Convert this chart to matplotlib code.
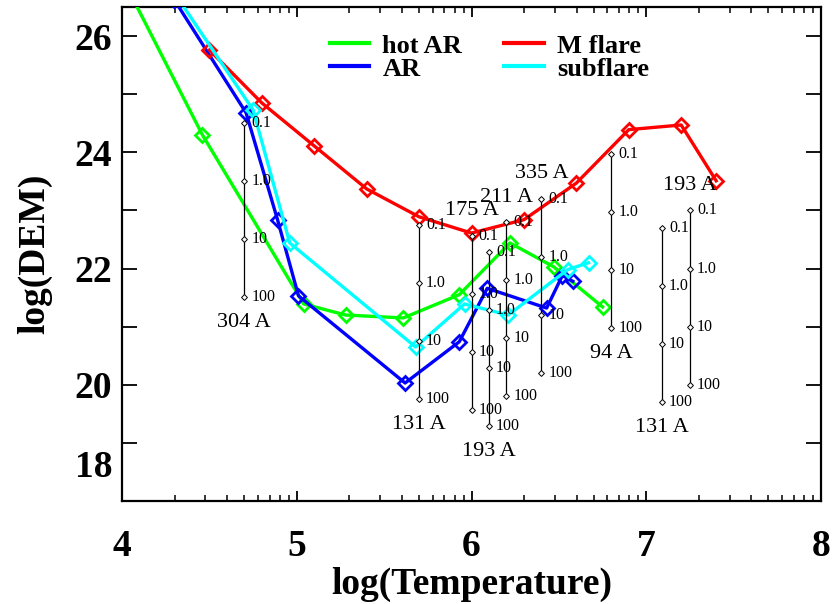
import matplotlib
matplotlib.use('Agg')
import matplotlib.pyplot as plt
from matplotlib.transforms import ScaledTranslation
import numpy as np

plt.rcParams['font.family'] = 'Liberation Serif'

# DEM curves: log(T) vs log(DEM)
hot_ar_t = [4.00, 4.46, 5.04, 5.28, 5.61, 5.93, 6.22, 6.47, 6.75]
hot_ar_dem = [27.01, 24.30, 21.39, 21.20, 21.15, 21.55, 22.44, 22.03, 21.34]
ar_t = [4.30, 4.71, 4.89, 5.01, 5.62, 5.93, 6.09, 6.43, 6.52, 6.58]
ar_dem = [26.62, 24.68, 22.84, 21.53, 20.03, 20.74, 21.66, 21.32, 21.88, 21.78]
mflare_t = [4.5, 4.8, 5.1, 5.4, 5.7, 6.0, 6.3, 6.6, 6.9, 7.2, 7.4]
mflare_dem = [25.76, 24.85, 24.11, 23.37, 22.89, 22.61, 22.84, 23.47, 24.39, 24.47, 23.51]
subflare_t = [4.30, 4.75, 4.96, 5.68, 5.96, 6.21, 6.55, 6.67]
subflare_dem = [26.74, 24.73, 22.44, 20.65, 21.39, 21.20, 21.98, 22.10]

# sensitivity bars for each channel (log DEM of the 0.1 mark)
bar_t = [4.70, 5.70, 6.00, 6.10, 6.20, 6.40, 6.80, 7.09, 7.25]
bar_top = [24.51, 22.75, 22.56, 22.29, 22.80, 23.20, 23.97, 22.70, 23.00]
bar_name = ['304 A', '131 A', '175 A', '193 A', '211 A', '335 A', '94 A', '131 A', '193 A']
bar_above = [False, False, True, False, True, True, False, False, True]
bar_factor = [0.1, 1.0, 10, 100]
bar_label = ['0.1', '1.0', '10', '100']

fig = plt.figure(figsize=(8.36, 6.04), dpi=100)
ax = fig.add_axes([122/836, 1-501/604, 699/836, 494/604])

series = [(hot_ar_t, hot_ar_dem, '#00ff00', 'hot AR'),
          (ar_t, ar_dem, '#0000ff', 'AR'),
          (mflare_t, mflare_dem, '#ff0000', 'M flare'),
          (subflare_t, subflare_dem, '#00ffff', 'subflare')]
handles = []
for t, d, c, name in series:
    h, = ax.plot(t, d, color=c, lw=2.4, marker='D', ms=7.5, mfc='none',
                 mec=c, mew=2.0, label=name, zorder=3)
    handles.append(h)

for x, top, name, above in zip(bar_t, bar_top, bar_name, bar_above):
    ys = [top - np.log10(f / bar_factor[0]) for f in bar_factor]
    ax.plot([x] * len(ys), ys, color='black', lw=0.9, marker='D', ms=3,
            mfc='white', mec='black', mew=0.7, zorder=4)
    for y, lab in zip(ys, bar_label):
        ax.annotate(lab, (x, y), xytext=(5, 0), textcoords='offset points',
                    ha='left', va='center', fontsize=11.5, zorder=5)
    if above:
        ax.annotate(name, (x, ys[0]), xytext=(0, 18), textcoords='offset points',
                    ha='center', va='center', fontsize=16, zorder=5)
    else:
        ax.annotate(name, (x, ys[-1]), xytext=(0, -18), textcoords='offset points',
                    ha='center', va='center', fontsize=16, zorder=5)

ax.set_xlim(4, 8)
ax.set_ylim(18, 26.5)

# log-style minor ticks inside each unit of log T
minor = [k + np.log10(m) for k in range(4, 8) for m in range(2, 10)]
ax.set_xticks([4, 5, 6, 7, 8])
ax.set_xticks(minor, minor=True)
ax.set_yticks(range(18, 27), labels=[str(v) if v % 2 == 0 else '' for v in range(18, 27)])

ax.tick_params(axis='both', which='both', direction='in', top=True, right=True)
ax.tick_params(axis='x', which='major', length=7, width=1.3, pad=20, labelsize=27)
ax.tick_params(axis='x', which='minor', length=4, width=1.1)
ax.tick_params(axis='y', which='major', length=11, width=1.3, pad=7, labelsize=27)
for lab in ax.get_xticklabels() + ax.get_yticklabels():
    lab.set_fontweight('bold')
# lowest label sits above the bottom axis
low = ax.yaxis.get_major_ticks()[0].label1
low.set_verticalalignment('bottom')
low.set_transform(low.get_transform() + ScaledTranslation(0, 0.16, fig.dpi_scale_trans))

for s in ax.spines.values():
    s.set_linewidth(1.6)

ax.set_xlabel('log(Temperature)', fontsize=27, fontweight='bold', labelpad=2)
ax.set_ylabel('log(DEM)', fontsize=27, fontweight='bold', labelpad=16)

ax.legend(handles=handles, ncol=2, loc='upper left', bbox_to_anchor=(0.297, 0.945),
          frameon=False, prop={'size': 19, 'weight': 'bold'}, handlelength=1.5,
          handletextpad=0.5, columnspacing=1.6, labelspacing=-0.02, borderpad=0,
          borderaxespad=0)
for line in ax.get_legend().get_lines():
    line.set_marker('')
    line.set_linewidth(3)

fig.savefig('out.png', dpi=100)
